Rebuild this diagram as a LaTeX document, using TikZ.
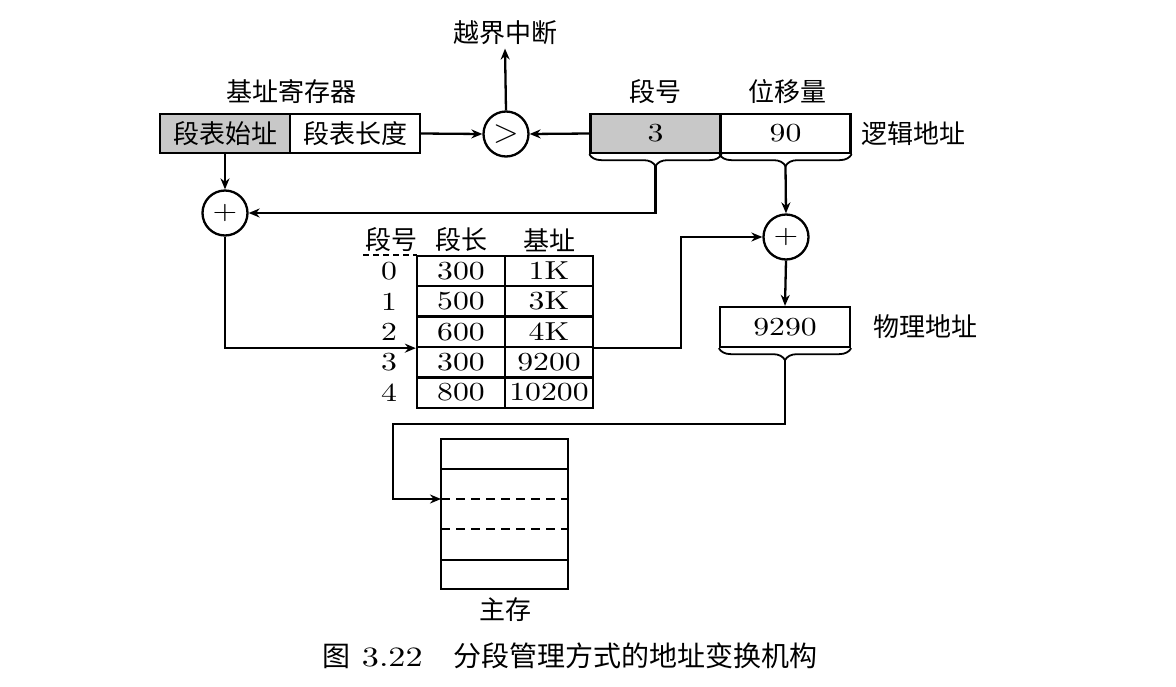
\documentclass[tikz,border=0pt]{standalone}
\usepackage{fontspec}
\newfontfamily\cjk{Noto Sans CJK SC}
\newfontfamily\dig[FakeStretch=1.22]{lmroman10-regular.otf}
\usetikzlibrary{arrows.meta,decorations.pathreplacing,calc}
\begin{document}
\begin{tikzpicture}[x=1pt,y=-1pt,
  every node/.style={font=\dig\fontsize{26}{30}\selectfont},
  cn/.style={font=\cjk\fontsize{26}{30}\selectfont},
  cell/.style={draw,line width=2.3pt,minimum width=130pt,minimum height=39pt,inner sep=0pt},
  tcell/.style={draw,line width=2.3pt,minimum width=88pt,minimum height=30.4pt,inner sep=0pt},
  circ/.style={draw,circle,line width=2.3pt,minimum size=45pt,inner sep=0pt},
  arr/.style={line width=2.3pt,-{Stealth[length=11pt,width=9pt]}},
  ln/.style={line width=2.3pt},
  brc/.style={line width=1.8pt,decorate,decoration={brace,amplitude=12pt}},
]
\fill[white] (0,0) rectangle (1176,686);
\useasboundingbox (0,0) rectangle (1176,686);
\definecolor{cgray}{RGB}{200,200,200}

% base register
\node[cn] (brl) at (291,92) {基址寄存器};
\node[cell,fill=cgray,cn] (sb) at (225,133.5) {段表始址};
\node[cell,cn] (sl) at (355,133.5) {段表长度};

% compare
\node[circ] (cmp) at (506,134) {\scalebox{1.35}{$>$}};
\node[cn] (ov) at (505,33) {越界中断};

% logical address
\node[cn] (hseg) at (655,92) {段号};
\node[cn] (hoff) at (787,92) {位移量};
\node[cell,fill=cgray] (la3) at (655.5,133.5) {3};
\node[cell] (la90) at (785.5,133.5) {90};
\node[cn,anchor=west] (lal) at (858,133.5) {逻辑地址};
\draw[brc] (la3.south east) -- (la3.south west);
\draw[brc] (la90.south east) -- (la90.south west);
\coordinate (t3) at (655.5,166);
\coordinate (t90) at (785.5,166);

% adders
\node[circ] (add1) at (225,213) {+};
\node[circ] (add2) at (786,237) {+};

% segment table
\node[cn] (hno) at (391,240) {段号};
\node[cn] (hlen) at (461,240) {段长};
\node[cn] (hbase) at (549,240) {基址};
\draw[ln,dashed,dash pattern=on 6pt off 4pt] (363,255) -- (417,255);
\foreach \i/\l/\b [evaluate=\i as \y using 271+30.4*\i] in {0/300/1K,1/500/3K,2/600/4K,3/300/9200,4/800/10200}{
  \node[tcell] (l\i) at (461,\y) {\l};
  \node[tcell] (b\i) at (549,\y) {\b};
  \node (n\i) at (389,\y) {\i};
}

% physical address
\node[cell,minimum height=40pt] (pa) at (785,327) {9290};
\node[cn,anchor=west] (pal) at (870,327) {物理地址};
\draw[brc] (pa.south east) -- (pa.south west);
\coordinate (tpa) at (785,359);

% main memory
\node[draw,line width=2.3pt,minimum width=127pt,minimum height=150pt,inner sep=0pt] (mem) at (504.5,514) {};
\draw[ln] (441,469) -- (568,469);
\draw[ln] (441,560) -- (568,560);
\draw[ln,dashed,dash pattern=on 9pt off 6pt] (441,499) -- (568,499);
\draw[ln,dashed,dash pattern=on 9pt off 6pt] (441,529) -- (568,529);
\coordinate (min) at (441,499);
\node[cn] (ml) at (505,610) {主存};

% caption
\node[font=\dig\fontsize{28}{30}\selectfont] (cap) at (570,656) {{\cjk 图} 3.22\hspace{1.1em}{\cjk 分段管理方式的地址变换机构}};

% connectors
\draw[arr] (sl.east) -- (cmp.west);
\draw[arr] (la3.west) -- (cmp.east);
\draw[arr] (cmp.north) -- (ov.south);
\draw[arr] (sb.south) -- (add1.north);
\draw[arr] (t3) |- (add1.east);
\draw[arr] (add1.south) |- (l2.south west);
\draw[arr] (b2.south east) -- ++(87,0) |- (add2.west);
\draw[arr] (t90) -- (add2.north);
\draw[arr] (add2.south) -- (pa.north);
\draw[arr] (tpa) |- (393,424) |- (min);
\end{tikzpicture}
\end{document}
